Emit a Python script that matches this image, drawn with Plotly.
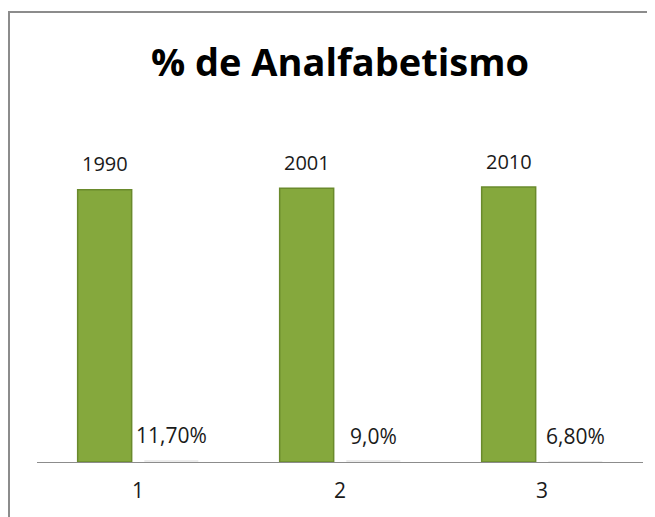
import plotly.graph_objects as go

categories = ["1", "2", "3"]
anos = [1990, 2001, 2010]
taxas = [11.7, 9.0, 6.8]
taxas_txt = ["11,70%", "9,0%", "6,80%"]

FONT = "Open Sans, sans-serif"
TXT = "#1a1a1a"

fig = go.Figure()

fig.add_trace(go.Bar(
    x=categories,
    y=anos,
    marker=dict(color="#85A83D", line=dict(color="#6A8A2C", width=1.5)),
    name="Ano",
))

fig.add_trace(go.Bar(
    x=categories,
    y=taxas,
    marker=dict(color="#ECECEC", line=dict(width=0)),
    name="%",
))

# rótulos: ano sobre a barra da esquerda, taxa sobre a barra (quase nula) da direita
# (eixo categórico: a posição da anotação é o índice da categoria)
for i, (ano, taxa, txt) in enumerate(zip(anos, taxas, taxas_txt)):
    fig.add_annotation(x=i, y=ano, text=str(ano), showarrow=False,
                       xshift=-33, yshift=26, yanchor="middle",
                       font=dict(size=20, color=TXT, family=FONT))
    fig.add_annotation(x=i, y=taxa, text=txt, showarrow=False,
                       xshift=33, yshift=25, yanchor="middle",
                       font=dict(size=21, color=TXT, family=FONT))

# moldura cinza do gráfico
fig.add_shape(type="rect", xref="paper", yref="paper",
              x0=-0.0462, x1=1.2, y0=-0.5, y1=1.3158,
              line=dict(color="#8c8c8c", width=2), layer="below")

fig.update_layout(
    title=dict(text="<b>% de Analfabetismo</b>", x=0.5, xref="paper",
               xanchor="center", y=0.892, yanchor="middle",
               font=dict(size=38, color="#000000", family=FONT)),
    barmode="group",
    bargap=0.34,
    bargroupgap=0.19,
    showlegend=False,
    width=647,
    height=509,
    margin=dict(l=29, r=12, t=112, b=55),
    plot_bgcolor="white",
    paper_bgcolor="white",
    xaxis=dict(type="category", showline=True, linecolor="#8c8c8c", linewidth=1,
               ticks="", showgrid=False, ticklabelstandoff=10,
               tickfont=dict(size=21, color=TXT, family=FONT)),
    yaxis=dict(range=[0, 2500], visible=False, showgrid=False),
)

fig.write_html("out.html")
